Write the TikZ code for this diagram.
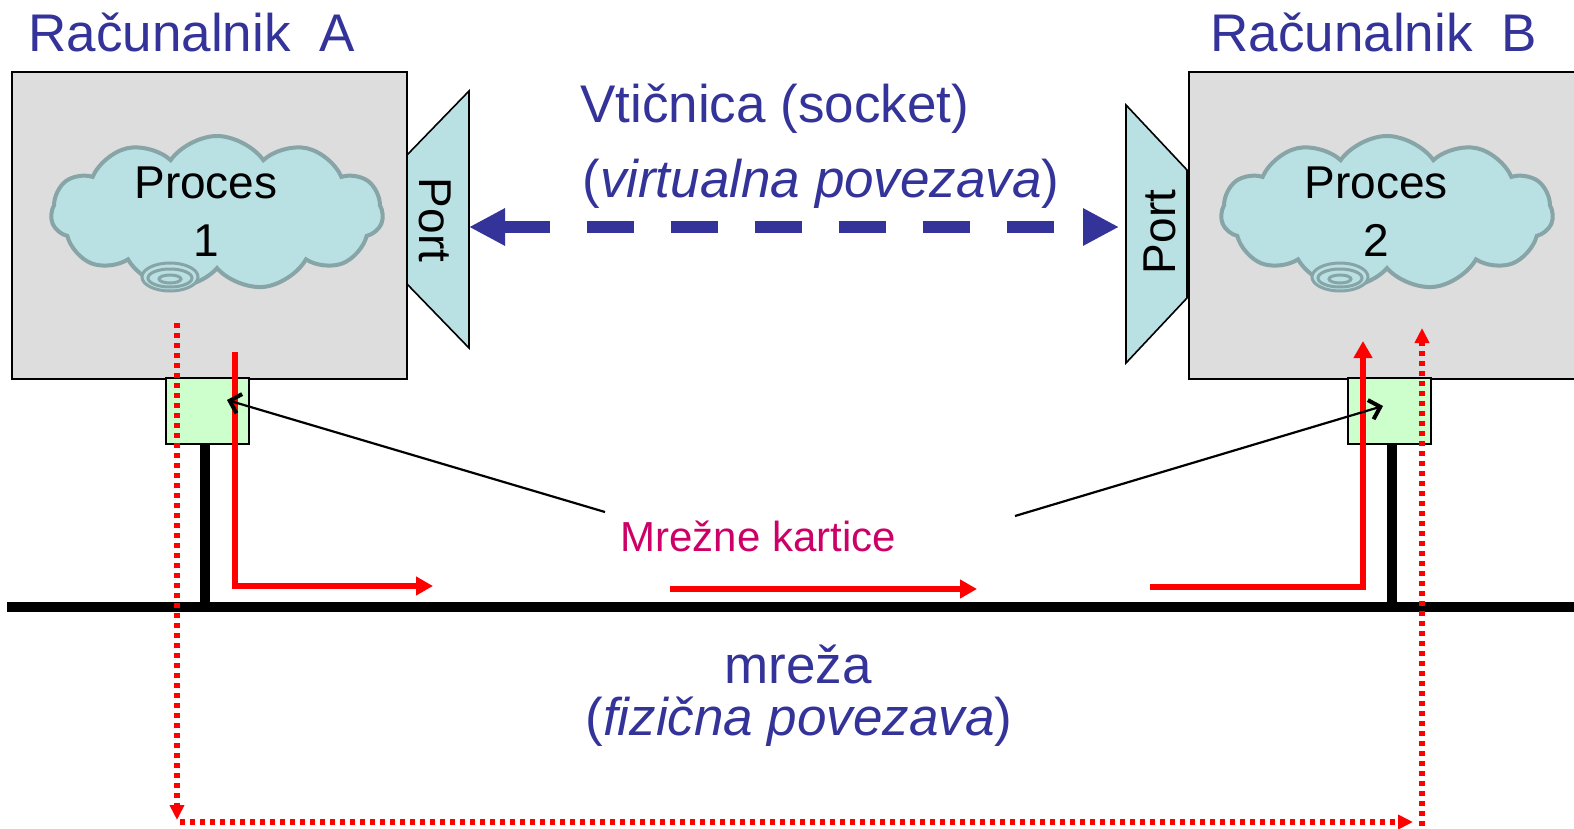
\documentclass[tikz,border=0pt]{standalone}
\usepackage{fontspec}
\setmainfont{Liberation Sans}
\usetikzlibrary{arrows.meta,shapes.symbols}
\definecolor{txtblue}{HTML}{333399}
\definecolor{txtmag}{HTML}{CC0066}
\definecolor{boxgray}{HTML}{DDDDDD}
\definecolor{cyanfill}{HTML}{B9E0E3}
\definecolor{cloudline}{HTML}{87A4A7}
\definecolor{nicgreen}{HTML}{CCFFCC}
\definecolor{redline}{HTML}{FF0000}
\tikzset{
  compbox/.style={draw=black, fill=boxgray, line width=1.25pt, inner sep=0pt},
  portshape/.style={draw=black, fill=cyanfill, line width=0.8pt},
  nicbox/.style={draw=black, fill=nicgreen, line width=1pt, inner sep=0pt, minimum width=41.5pt, minimum height=33pt},
  cloudsty/.style={cloud, cloud puffs=11, cloud puff arc=110, aspect=2.15, draw=cloudline, fill=cyanfill, line width=2pt, minimum width=166pt, minimum height=77pt, inner sep=0pt},
  swirl/.style={draw=cloudline, line width=1.5pt},
  bigtext/.style={text=txtblue, font=\fontsize{26.5}{32}\selectfont, inner sep=0pt},
  proctext/.style={text=black, font=\fontsize{23}{29}\selectfont, align=center, inner sep=0pt},
  porttext/.style={text=black, font=\fontsize{23}{28}\selectfont, inner sep=0pt},
  nictext/.style={text=txtmag, font=\fontsize{21}{25}\selectfont, inner sep=0pt},
  netline/.style={line width=5.2pt, black},
  stub/.style={line width=5.2pt, black},
  redflow/.style={redline, line width=2.8pt, -{Triangle[length=8.5pt,width=9pt]}},
  reddot/.style={redline, line width=2.6pt, dash pattern=on 2.6pt off 2.4pt, -{Triangle[length=7.5pt,width=7pt]}},
  virtarrow/.style={txtblue, line width=6pt, dash pattern=on 23.5pt off 18.5pt, {Triangle[length=18pt,width=17.5pt]}-{Triangle[length=18pt,width=17.5pt]}},
  pointer/.style={black, line width=1.1pt, -{Straight Barb[length=5pt,width=10pt,line width=2pt]}}
}
\begin{document}
\begin{tikzpicture}[x=0.5pt,y=-0.5pt]
\useasboundingbox (0,0) rectangle (1574,829);
% computers
\node[compbox, minimum width=197.5pt, minimum height=153.5pt] (compA) at (209.5,225.5) {};
\node[compbox, minimum width=205pt, minimum height=153.5pt] (compB) at (1394,225.5) {};
% titles
\node[bigtext, anchor=base west] (titA) at (28,52) {Računalnik\ \ A};
\node[bigtext, anchor=base west] (titB) at (1210,52) {Računalnik\ \ B};
% ports
\draw[portshape] (407,155) -- (469,91) -- (469,348) -- (407,284) -- cycle;
\draw[portshape] (1187,170) -- (1126,105) -- (1126,363) -- (1187,298) -- cycle;
\node[porttext, rotate=-90] (portA) at (435,220) {Port};
\node[porttext, rotate=90] (portB) at (1160,232) {Port};
\coordinate (pAface) at (469,227);
\coordinate (pBface) at (1119,227);
% clouds
\node[cloudsty] (cloudA) at (217,213) {};
\draw[swirl, fill=cyanfill] (170,277) ellipse [x radius=14pt, y radius=7pt];
\draw[swirl] (170,278) ellipse [x radius=11pt, y radius=4.5pt];
\draw[swirl] (170,279) ellipse [x radius=5.5pt, y radius=2pt];
\node[proctext] (procA) at (206,212) {Proces\\1};
\node[cloudsty] (cloudB) at (1387,213) {};
\draw[swirl, fill=cyanfill] (1340,277) ellipse [x radius=14pt, y radius=7pt];
\draw[swirl] (1340,278) ellipse [x radius=11pt, y radius=4.5pt];
\draw[swirl] (1340,279) ellipse [x radius=5.5pt, y radius=2pt];
\node[proctext] (procB) at (1376,212) {Proces\\2};
% socket text
\node[bigtext, anchor=base west] (sock1) at (580,123) {Vtičnica (socket)};
\node[bigtext, anchor=base west] (sock2) at (582,198) {(\textit{virtualna povezava})};
\draw[virtarrow] (pAface) -- (pBface);
% network
\coordinate (netL) at (7,607);
\coordinate (netR) at (1574,607);
\draw[netline] (netL) -- (netR);
% NICs
\node[nicbox] (nicA) at (207.5,411) {};
\node[nicbox] (nicB) at (1389,411) {};
\draw[stub] (nicA.south -| 205,0) -- (205,607);
\draw[stub] (nicB.south -| 1392,0) -- (1392,607);
% labels
\node[nictext, anchor=base west] (nicLbl) at (620,551) {Mrežne kartice};
\coordinate (ptrA) at (605,512);
\coordinate (ptrB) at (1015,516);
\coordinate (tipA) at (227,400);
\coordinate (tipB) at (1383,406);
\node[bigtext, anchor=base] (net1) at (798,683) {mreža};
\node[bigtext, anchor=base] (net2) at (799,735) {(\textit{fizična povezava})};
% red flows
\coordinate (rA0) at (235,352);
\coordinate (rA1) at (235,586);
\coordinate (rA2) at (433,586);
\draw[redflow] (rA0) -- (rA1) -- (rA2);
\coordinate (rM0) at (670,589);
\coordinate (rM1) at (977,589);
\draw[redflow] (rM0) -- (rM1);
\coordinate (rB0) at (1150,587);
\coordinate (rB1) at (1363,587);
\coordinate (rB2) at (1363,341);
\draw[redflow] (rB0) -- (rB1) -- (rB2);
% dotted path
\coordinate (dA0) at (177,323);
\coordinate (dA1) at (177,820);
\coordinate (dH0) at (180,822);
\coordinate (dH1) at (1413,822);
\coordinate (dB0) at (1422,826);
\coordinate (dB1) at (1422,328);
\draw[reddot] (dA0) -- (dA1);
\draw[reddot] (dH0) -- (dH1);
\draw[reddot] (dB0) -- (dB1);
% pointers
\draw[pointer] (ptrA) -- (tipA);
\draw[pointer] (ptrB) -- (tipB);
\end{tikzpicture}
\end{document}
